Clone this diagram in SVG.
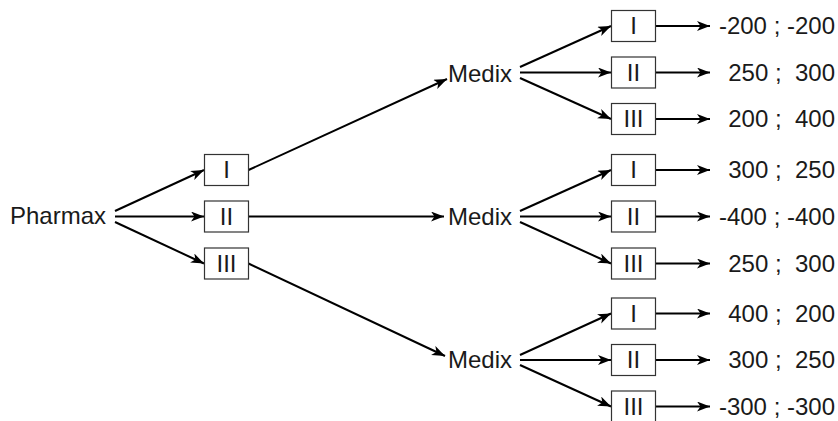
<svg xmlns="http://www.w3.org/2000/svg" width="838" height="421" viewBox="0 0 838 421">
<style>
text{font-family:"Liberation Sans",Arial,Helvetica,sans-serif;font-size:24px;fill:#1a1a1a}
.c{text-anchor:middle}
.v{text-anchor:end}
rect{fill:#fff;stroke:#333;stroke-width:1.2}
.e path{fill:none;stroke:#000;stroke-width:2;marker-end:url(#a)}
</style>
<defs>
<marker id="a" markerUnits="userSpaceOnUse" markerWidth="14" markerHeight="11" refX="13" refY="5" orient="auto">
<path d="M0,0 L13,5 L0,10 L3.5,5 Z" fill="#000"/>
</marker>
</defs>
<g class="e" id="connectors">
<path d="M115,211 L204,170"/>
<path d="M115,216.5 L204,216.5"/>
<path d="M115,222 L204,263.5"/>
<path d="M248.5,170 L447,79"/>
<path d="M248.5,216.5 L444,216.5"/>
<path d="M248.5,263.5 L445,356"/>
<path d="M520,67 L611,26"/>
<path d="M520,72.5 L611,72.5"/>
<path d="M520,78 L611,119"/>
<path d="M520,211 L611,170"/>
<path d="M520,216.5 L611,216.5"/>
<path d="M520,222 L611,263.5"/>
<path d="M520,355 L611,313.5"/>
<path d="M520,360 L611,360"/>
<path d="M520,365 L611,406.5"/>
<path d="M655.5,26 L710,26"/>
<path d="M655.5,72.5 L710,72.5"/>
<path d="M655.5,119 L710,119"/>
<path d="M655.5,170 L710,170"/>
<path d="M655.5,216.5 L710,216.5"/>
<path d="M655.5,263.5 L710,263.5"/>
<path d="M655.5,313.5 L710,313.5"/>
<path d="M655.5,360 L710,360"/>
<path d="M655.5,406.5 L710,406.5"/>
</g>
<g id="pharmax"><text x="10" y="224">Pharmax</text></g>
<g id="p1"><rect x="204.5" y="154.5" width="44" height="31"/><text class="c" x="226.5" y="178">I</text></g>
<g id="p2"><rect x="204.5" y="201" width="44" height="31"/><text class="c" x="226.5" y="224.5">II</text></g>
<g id="p3"><rect x="204.5" y="248" width="44" height="31"/><text class="c" x="226.5" y="271.5">III</text></g>
<g id="medix1"><text x="448" y="82">Medix</text></g>
<g id="medix2"><text x="448" y="225">Medix</text></g>
<g id="medix3"><text x="448" y="368">Medix</text></g>
<g id="m1a"><rect x="611.5" y="10.5" width="44" height="31"/><text class="c" x="633.5" y="34">I</text></g>
<g id="m1b"><rect x="611.5" y="57" width="44" height="31"/><text class="c" x="633.5" y="80.5">II</text></g>
<g id="m1c"><rect x="611.5" y="103.5" width="44" height="31"/><text class="c" x="633.5" y="127">III</text></g>
<g id="m2a"><rect x="611.5" y="154.5" width="44" height="31"/><text class="c" x="633.5" y="178">I</text></g>
<g id="m2b"><rect x="611.5" y="201" width="44" height="31"/><text class="c" x="633.5" y="224.5">II</text></g>
<g id="m2c"><rect x="611.5" y="248" width="44" height="31"/><text class="c" x="633.5" y="271.5">III</text></g>
<g id="m3a"><rect x="611.5" y="298" width="44" height="31"/><text class="c" x="633.5" y="321.5">I</text></g>
<g id="m3b"><rect x="611.5" y="344.5" width="44" height="31"/><text class="c" x="633.5" y="368">II</text></g>
<g id="m3c"><rect x="611.5" y="391" width="44" height="31"/><text class="c" x="633.5" y="414.5">III</text></g>
<g id="values">
<text class="v" x="835" y="34" xml:space="preserve">-200 ; -200</text>
<text class="v" x="835" y="80.5" xml:space="preserve">250 ;  300</text>
<text class="v" x="835" y="127" xml:space="preserve">200 ;  400</text>
<text class="v" x="835" y="178" xml:space="preserve">300 ;  250</text>
<text class="v" x="835" y="224.5" xml:space="preserve">-400 ; -400</text>
<text class="v" x="835" y="271.5" xml:space="preserve">250 ;  300</text>
<text class="v" x="835" y="321.5" xml:space="preserve">400 ;  200</text>
<text class="v" x="835" y="368" xml:space="preserve">300 ;  250</text>
<text class="v" x="835" y="414.5" xml:space="preserve">-300 ; -300</text>
</g>
</svg>
